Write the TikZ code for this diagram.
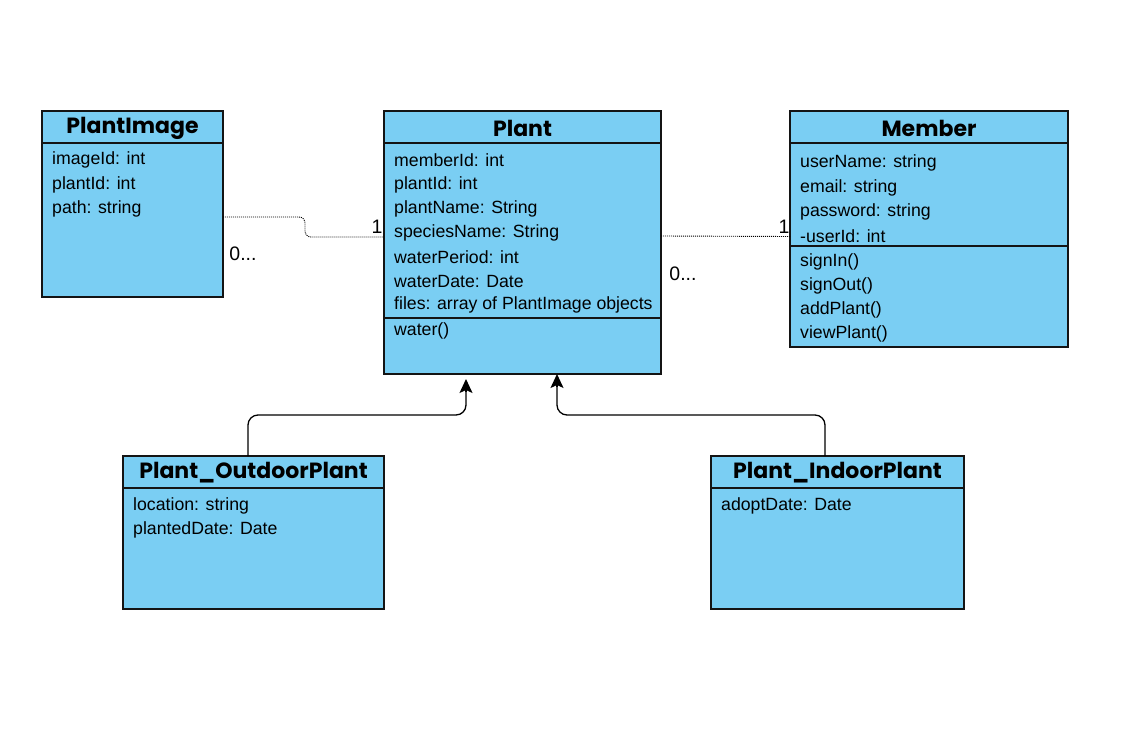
\documentclass[tikz,border=0pt]{standalone}
\usepackage{fontspec}
\setmainfont{Liberation Sans}
\newfontfamily\pop{Poppins}
\usetikzlibrary{arrows.meta,calc}
\definecolor{clsfill}{RGB}{122,206,243}
\definecolor{clsline}{RGB}{20,20,20}
\begin{document}
\begin{tikzpicture}[x=1pt,y=-1pt,
 cls/.style={draw=clsline, fill=clsfill, line width=1.2pt, anchor=north west, inner sep=0pt, outer sep=0pt},
 title/.style={font=\pop\bfseries\fontsize{22}{26}\selectfont, inner sep=0pt},
 attr/.style={font=\fontsize{17.7}{20}\selectfont, anchor=west, inner sep=0pt},
 sep/.style={draw=clsline, line width=1.2pt},
 assoc/.style={line width=0.9pt, dash pattern=on 1pt off 1pt, rounded corners=6pt},
 inh/.style={line width=1.3pt, rounded corners=10pt},
 tipst/.style={line width=1.3pt, -{Stealth[length=14pt,width=13pt,inset=3pt]}},
 mult/.style={font=\fontsize{19.5}{22}\selectfont, inner sep=0pt}]
\useasboundingbox[fill=white] (0,0) rectangle (1147,733);

% PlantImage
\node[cls, minimum width=181pt, minimum height=186pt] (img) at (42,111) {};
\node[title] (imgT) at (132.5,128) {PlantImage};
\draw[sep] ([yshift=-32pt]img.north west) -- ([yshift=-32pt]img.north east);
\node[attr] (img1) at (52,160) {imageId: int};
\node[attr] (img2) at (52,185) {plantId: int};
\node[attr] (img3) at (52,209) {path: string};

% Plant
\node[cls, minimum width=277pt, minimum height=263pt] (plant) at (384,111) {};
\node[title] (plantT) at (522.5,128) {Plant};
\draw[sep] ([yshift=-32pt]plant.north west) -- ([yshift=-32pt]plant.north east);
\draw[sep] ([yshift=-207pt]plant.north west) -- ([yshift=-207pt]plant.north east);
\node[attr] (p1) at (394,160) {memberId: int};
\node[attr] (p2) at (394,185) {plantId: int};
\node[attr] (p3) at (394,209) {plantName: String};
\node[attr] (p4) at (394,233) {speciesName: String};
\node[attr] (p5) at (394,257) {waterPeriod: int};
\node[attr] (p6) at (394,281) {waterDate: Date};
\node[attr] (p7) at (394,305) {files: array of PlantImage objects};
\node[attr] (pm1) at (394,331) {water()};

% Member
\node[cls, minimum width=278pt, minimum height=236pt] (mem) at (790,111) {};
\node[title] (memT) at (929,128) {Member};
\draw[sep] ([yshift=-32pt]mem.north west) -- ([yshift=-32pt]mem.north east);
\draw[sep] ([yshift=-135pt]mem.north west) -- ([yshift=-135pt]mem.north east);
\node[attr] (m1) at (800,163) {userName: string};
\node[attr] (m2) at (800,188) {email: string};
\node[attr] (m3) at (800,212) {password: string};
\node[attr] (m4) at (800,236) {-userId: int};
\node[attr] (mm1) at (800,262) {signIn()};
\node[attr] (mm2) at (800,286) {signOut()};
\node[attr] (mm3) at (800,310) {addPlant()};
\node[attr] (mm4) at (800,334) {viewPlant()};

% Plant_OutdoorPlant
\node[cls, minimum width=261pt, minimum height=153pt] (out) at (123,456) {};
\node[title] (outT) at (253.5,473) {Plant\_OutdoorPlant};
\draw[sep] ([yshift=-32pt]out.north west) -- ([yshift=-32pt]out.north east);
\node[attr] (o1) at (133,506) {location: string};
\node[attr] (o2) at (133,530) {plantedDate: Date};

% Plant_IndoorPlant
\node[cls, minimum width=253pt, minimum height=153pt] (ind) at (711,456) {};
\node[title] (indT) at (837.5,473) {Plant\_IndoorPlant};
\draw[sep] ([yshift=-32pt]ind.north west) -- ([yshift=-32pt]ind.north east);
\node[attr] (i1) at (721,506) {adoptDate: Date};

% associations
\draw[assoc] ([yshift=-13pt]img.east) -- ++(82,0) |- ([yshift=5.5pt]plant.west);
\draw[assoc] ([yshift=6.5pt]plant.east) -- ([yshift=-7.5pt]mem.west);
\node[mult] (mA) at (243,254) {0...};
\node[mult] (mB) at (377,227) {1};
\node[mult] (mC) at (683,274) {0...};
\node[mult] (mD) at (784,227) {1};

% inheritance
\draw[inh] ([xshift=-5.5pt]out.north) -- ++(0,-41) -| ([xshift=-56.5pt,yshift=-14pt]plant.south);
\draw[tipst] ([xshift=-56.5pt,yshift=-18pt]plant.south) -- ([xshift=-56.5pt,yshift=-5pt]plant.south);
\draw[inh] ([xshift=-12.5pt]ind.north) -- ++(0,-41) -| ([xshift=34.5pt,yshift=-9pt]plant.south);
\draw[tipst] ([xshift=34.5pt,yshift=-13pt]plant.south) -- ([xshift=34.5pt]plant.south);
\end{tikzpicture}
\end{document}
